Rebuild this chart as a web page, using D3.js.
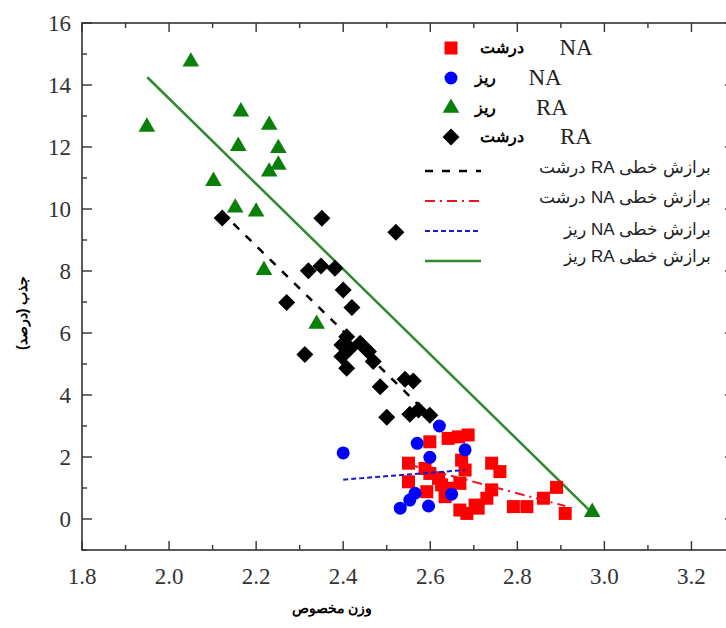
<!DOCTYPE html>
<html><head><meta charset="utf-8">
<script src="https://cdn.jsdelivr.net/npm/d3@7"></script>
<style>body{margin:0;background:#fff}svg{display:block}</style>
</head><body>
<svg id="c" width="726" height="628"></svg>
<script>
// ---- data ----
const xTicks = [1.8, 2.0, 2.2, 2.4, 2.6, 2.8, 3.0, 3.2];
const yTicks = [0, 2, 4, 6, 8, 10, 12, 14, 16];
const xLabel = "وزن مخصوص";
const yLabel = "جذب (درصد)";

// NA درشت (red squares)
const naCoarse = [[2.599,2.49],[2.641,2.60],[2.665,2.65],[2.687,2.71],[2.55,1.80],[2.588,1.63],[2.672,1.90],[2.68,1.58],
  [2.741,1.80],[2.76,1.53],[2.55,1.20],[2.599,1.47],[2.619,1.31],[2.626,1.10],[2.592,0.88],[2.641,0.99],[2.668,1.15],
  [2.634,0.72],[2.668,0.29],[2.684,0.18],[2.703,0.45],[2.71,0.35],[2.73,0.67],[2.741,0.94],[2.791,0.40],[2.822,0.40],
  [2.86,0.67],[2.89,1.02],[2.91,0.18]];
// NA ریز (blue circles)
const naFine = [[2.40,2.13],[2.621,3.0],[2.57,2.44],[2.599,1.99],[2.68,2.23],[2.565,0.83],[2.553,0.61],[2.531,0.35],[2.596,0.42],[2.649,0.80]];
// RA ریز (green triangles)
const raFine = [[2.05,14.75],[1.949,12.65],[2.165,13.14],[2.23,12.71],[2.159,12.03],[2.251,11.96],[2.251,11.42],[2.23,11.2],
  [2.102,10.9],[2.152,10.04],[2.2,9.91],[2.218,8.03],[2.339,6.29],[2.972,0.22]];
// RA درشت (black diamonds)
const raCoarse = [[2.122,9.71],[2.351,9.70],[2.521,9.25],[2.32,8.01],[2.349,8.16],[2.381,8.09],[2.40,7.39],[2.27,6.98],[2.42,6.82],
  [2.312,5.31],[2.408,5.88],[2.397,5.61],[2.416,5.51],[2.439,5.67],[2.458,5.40],[2.397,5.24],[2.408,4.86],[2.469,5.08],
  [2.485,4.27],[2.542,4.51],[2.561,4.45],[2.5,3.28],[2.553,3.38],[2.573,3.52],[2.599,3.35]];

// linear fits (end points)
const fitRACoarse = [[2.12,9.91],[2.60,3.31]];
const fitNACoarse = [[2.55,1.76],[2.91,0.42]];
const fitNAFine = [[2.40,1.27],[2.68,1.58]];
const fitRAFine = [[1.95,14.25],[2.97,0.22]];

const legendSymbols = [
  {fa:"درشت", en:"NA", shape:"square", color:"#ff0000"},
  {fa:"ریز", en:"NA", shape:"circle", color:"#0000ff"},
  {fa:"ریز", en:"RA", shape:"triangle", color:"#0a800a"},
  {fa:"درشت", en:"RA", shape:"diamond", color:"#000000"}
];
const legendLines = [
  {label:"برازش خطی RA درشت", color:"#000000", dash:"8,9", w:2.5},
  {label:"برازش خطی NA درشت", color:"#e8141e", dash:"10,5,2,5", w:2},
  {label:"برازش خطی NA ریز", color:"#1a1acc", dash:"5,3", w:2},
  {label:"برازش خطی RA ریز", color:"#2f8a2f", dash:null, w:2.5}
];

// ---- drawing ----
const svg = d3.select("#c");
const x = d3.scaleLinear().domain([1.8, 3.3]).range([82, 735]);
const y = d3.scaleLinear().domain([-1, 16]).range([550, 23]);
const serif = "'Liberation Serif','DejaVu Serif','Times New Roman',serif";
const sans = "'Liberation Sans',Arial,sans-serif";

const axisColor = "#333";
svg.append("rect").attr("x", x(1.8)).attr("y", y(16)).attr("width", x(3.3)-x(1.8)).attr("height", y(-1)-y(16))
  .attr("fill","none").attr("stroke",axisColor).attr("stroke-width",1.6);

const xMinor = d3.range(1.8, 3.3001, 0.1).map(v=>+v.toFixed(2));
const yMinor = d3.range(-1, 16.001, 1);
const g = svg.append("g").attr("stroke",axisColor).attr("stroke-width",1.4);
xMinor.forEach(v=>{
  const major = xTicks.some(t=>Math.abs(t-v)<1e-6);
  const L = major?9:5;
  g.append("line").attr("x1",x(v)).attr("x2",x(v)).attr("y1",y(-1)).attr("y2",y(-1)-L);
  g.append("line").attr("x1",x(v)).attr("x2",x(v)).attr("y1",y(16)).attr("y2",y(16)+L);
});
yMinor.forEach(v=>{
  const major = yTicks.includes(v);
  const L = major?10:5;
  g.append("line").attr("x1",x(1.8)).attr("x2",x(1.8)+L).attr("y1",y(v)).attr("y2",y(v));
  g.append("line").attr("x1",x(3.3)).attr("x2",x(3.3)-L).attr("y1",y(v)).attr("y2",y(v));
});
svg.append("g").selectAll("text").data(xTicks).join("text")
  .attr("x",d=>x(d)).attr("y",y(-1)+34).attr("text-anchor","middle")
  .attr("font-family",serif).attr("font-size",23).attr("fill","#333").text(d=>d.toFixed(1));
svg.append("g").selectAll("text").data(yTicks).join("text")
  .attr("x",x(1.8)-11).attr("y",d=>y(d)+8).attr("text-anchor","end")
  .attr("font-family",serif).attr("font-size",23).attr("fill","#333").text(d=>d);

svg.append("text").attr("x",332).attr("y",613).attr("text-anchor","middle")
  .attr("font-family",sans).attr("font-weight","bold").attr("font-size",14).text(xLabel);
svg.append("text").attr("transform",`translate(27,${y(6.65)}) rotate(-90)`).attr("text-anchor","middle")
  .attr("font-family",sans).attr("font-weight","bold").attr("font-size",14).text(yLabel);

const line = d3.line().x(d=>x(d[0])).y(d=>y(d[1]));
function fit(data, st){
  svg.append("path").attr("d",line(data)).attr("fill","none").attr("stroke",st.color)
    .attr("stroke-width",st.w).attr("stroke-dasharray",st.dash);
}
fit(fitRAFine, legendLines[3]);

function marker(sel, shape, color){
  if(shape==="square") return sel.append("rect").attr("x",-6.5).attr("y",-6.5).attr("width",13).attr("height",13).attr("fill",color);
  if(shape==="circle") return sel.append("circle").attr("r",6.5).attr("fill",color);
  if(shape==="triangle") return sel.append("path").attr("d",d3.symbol(d3.symbolTriangle, 120)()).attr("fill",color);
  if(shape==="diamond") return sel.append("path").attr("d","M0,-8.5L8.5,0L0,8.5L-8.5,0Z").attr("fill",color);
}
function series(data, i){
  const s = legendSymbols[i];
  data.forEach(d=>{
    const gg = svg.append("g").attr("transform",`translate(${x(d[0])},${y(d[1])})`);
    marker(gg, s.shape, s.color);
  });
}
series(raFine, 2);
series(raCoarse, 3);
series(naCoarse, 0);
series(naFine, 1);
fit(fitRACoarse, legendLines[0]);
fit(fitNACoarse, legendLines[1]);
fit(fitNAFine, legendLines[2]);

// legend
const legRows = [48, 78, 108, 137];
const faX = [502, 485, 485, 502];
const enX = [576, 545, 552, 576];
legendSymbols.forEach((s,i)=>{
  const gg = svg.append("g").attr("transform",`translate(451,${legRows[i]})`);
  marker(gg, s.shape, s.color);
  svg.append("text").attr("x",faX[i]).attr("y",legRows[i]+5).attr("text-anchor","middle")
    .attr("font-family",sans).attr("font-weight","bold").attr("font-size",15.5).text(s.fa);
  svg.append("text").attr("x",enX[i]).attr("y",legRows[i]+7).attr("text-anchor","middle")
    .attr("font-family",serif).attr("font-size",23).attr("fill","#222").text(s.en);
});
const lineRows = [171, 201, 231, 261];
const lineTextY = [168, 198, 230, 257];
legendLines.forEach((l,i)=>{
  svg.append("line").attr("x1",425).attr("x2",481).attr("y1",lineRows[i]).attr("y2",lineRows[i])
    .attr("stroke",l.color).attr("stroke-width",l.w).attr("stroke-dasharray",l.dash);
  svg.append("text").attr("x",711).attr("y",lineTextY[i]+5)
    .attr("direction","rtl").attr("text-anchor","start")
    .attr("font-family",sans).attr("font-size",17).attr("fill","#222").text(l.label);
});
</script>
</body></html>
